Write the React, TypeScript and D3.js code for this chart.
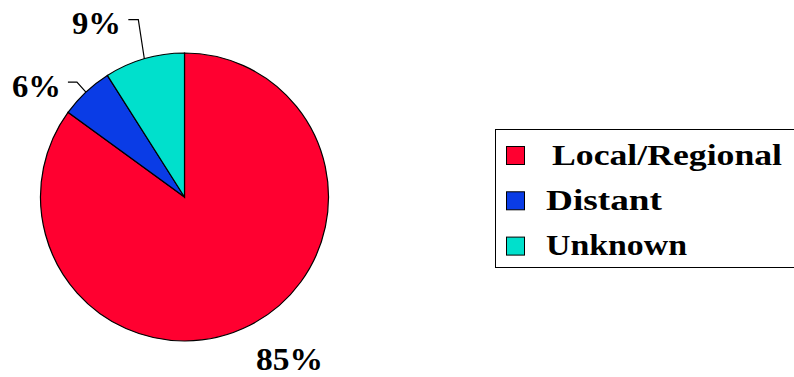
import React from "react";
import * as d3 from "d3";

const categories = ["Local/Regional", "Distant", "Unknown"];
const values = [85, 6, 9];
const colors = ["#FF0030", "#0A3CE6", "#00E0CC"];

export default function App() {
  const W = 794, H = 377;
  const cx = 184.5, cy = 197, r = 144;
  const pie = d3.pie<number>().sort(null).value((d) => d)(values);
  const arc = d3.arc<d3.PieArcDatum<number>>().innerRadius(0).outerRadius(r);
  const font = "Liberation Serif";

  const edge = (a: d3.PieArcDatum<number>, rr: number) => {
    const m = (a.startAngle + a.endAngle) / 2;
    return [cx + rr * Math.sin(m), cy - rr * Math.cos(m)];
  };

  // label placement (layout)
  const labelPos = [
    { x: 256, y: 370, size: 31, len: 67, leader: null as null | number[][] },
    { x: 12, y: 96.5, size: 32, len: 49, leader: [[-9, -10], [-18, -10]] },
    { x: 72, y: 33.5, size: 32, len: 49, leader: [[-6, -39], [-16, -39]] },
  ];
  const legendX = [552, 546, 546];
  const legendLen = [230, 116, 141];

  return (
    <svg width={W} height={H} style={{ position: "absolute", left: 0, top: 0, background: "#fff" }}>
      <g transform={`translate(${cx},${cy})`}>
        {pie.map((p, i) => (
          <path key={i} d={arc(p) || ""} fill={colors[i]} stroke="#000" strokeWidth={1.2} />
        ))}
      </g>
      {pie.map((p, i) => {
        const lp = labelPos[i];
        const [ex, ey] = edge(p, r);
        return (
          <g key={i}>
            {lp.leader && (
              <polyline
                points={[[ex, ey], ...lp.leader.map(([dx, dy]) => [ex + dx, ey + dy])]
                  .map((q) => q.join(","))
                  .join(" ")}
                fill="none"
                stroke="#000"
                strokeWidth={1.2}
              />
            )}
            <text
              x={lp.x}
              y={lp.y}
              fontFamily={font}
              fontWeight="bold"
              fontSize={lp.size}
              textLength={lp.len}
              lengthAdjust="spacingAndGlyphs"
            >
              {`${values[i]}%`}
            </text>
          </g>
        );
      })}
      <rect x={495.5} y={129.5} width={310} height={138} fill="#fff" stroke="#000" strokeWidth={1} />
      {categories.map((c, i) => (
        <g key={c} transform={`translate(0,${i * 45.3})`}>
          <rect x={506.5} y={146.5} width={18} height={18} fill={colors[i]} stroke="#000" strokeWidth={1} />
          <text
            x={legendX[i]}
            y={164.5}
            fontFamily={font}
            fontWeight="bold"
            fontSize={29.5}
            textLength={legendLen[i]}
            lengthAdjust="spacingAndGlyphs"
          >
            {c}
          </text>
        </g>
      ))}
    </svg>
  );
}
